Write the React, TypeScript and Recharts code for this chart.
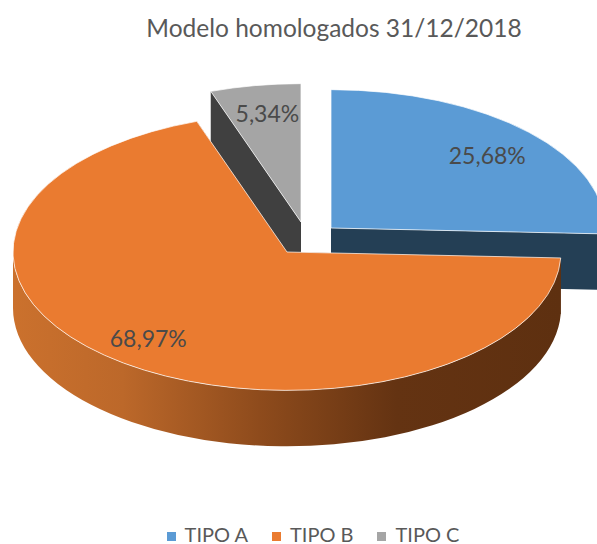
import React from 'react';
import { PieChart, Pie, Legend } from 'recharts';

const TITLE = 'Modelo homologados 31/12/2018';
const CATEGORIES = ['TIPO A', 'TIPO B', 'TIPO C'];
const VALUES = [25.68, 68.97, 5.34];
const COLORS = ['#5B9BD5', '#EA7B30', '#A5A5A5'];
const WALL_COLORS = ['#243F55', 'url(#orangeWall)', '#404040'];

// fake 3D: circle squashed by TILT and extruded by DEPTH, slices pulled out by EXPLODE
const TILT = 0.505;
const DEPTH = 56;
const EXPLODE = [[44, -24], [0, 0], [14, -30]];
const LABEL_NUDGE = [[-2, 4], [-8, -3], [3, 0]];

const pieData = CATEGORIES.map((name, i) => ({ name, value: VALUES[i], fill: COLORS[i] }));

const slice3d = (props: any, only: string[]) => {
  const { name, cx, cy, outerRadius, startAngle, endAngle } = props;
  if (!only.includes(name)) return <g />;
  const i = CATEGORIES.indexOf(name);
  const rx = outerRadius;
  const ry = outerRadius * TILT;
  const ax = cx + EXPLODE[i][0];
  const ay = cy + EXPLODE[i][1];
  const from = 90 - startAngle;
  const to = 90 - endAngle;
  const pt = (deg: number, down = 0) => {
    const r = (deg * Math.PI) / 180;
    return `${ax + rx * Math.sin(r)} ${ay - ry * Math.cos(r) + down}`;
  };
  const large = to - from > 180 ? 1 : 0;
  const rimFrom = Math.max(from, 90);
  const rimTo = Math.min(to, 270);
  const wall = WALL_COLORS[i];
  const face = (deg: number) =>
    `M${ax} ${ay}L${pt(deg)}L${pt(deg, DEPTH)}L${ax} ${ay + DEPTH}Z`;
  return (
    <g>
      <path d={face(from)} fill={wall} />
      <path d={face(to)} fill={wall} />
      {rimFrom < rimTo && (
        <path
          d={`M${pt(rimFrom)}A${rx} ${ry} 0 0 1 ${pt(rimTo)}L${pt(rimTo, DEPTH)}A${rx} ${ry} 0 0 0 ${pt(rimFrom, DEPTH)}Z`}
          fill={wall}
        />
      )}
      <path
        d={`M${ax} ${ay}L${pt(from)}A${rx} ${ry} 0 ${large} 1 ${pt(to)}Z`}
        fill={COLORS[i]}
        stroke="#ffffff"
        strokeOpacity={0.7}
        strokeWidth={1}
      />
    </g>
  );
};

const sliceLabel = (props: any, only: string[]) => {
  const { name, cx, cy, outerRadius, midAngle, value } = props;
  if (!only.includes(name)) return null;
  const i = CATEGORIES.indexOf(name);
  const r = (midAngle * Math.PI) / 180;
  const x = cx + EXPLODE[i][0] + outerRadius * 0.8 * Math.cos(r) + LABEL_NUDGE[i][0];
  const y = cy + EXPLODE[i][1] - outerRadius * TILT * 0.8 * Math.sin(r) + LABEL_NUDGE[i][1];
  return (
    <text x={x} y={y} textAnchor="middle" dominantBaseline="central" fill="#4A4A4A" fontSize={23} fontFamily="Lato">
      {value.toFixed(2).replace('.', ',')}%
    </text>
  );
};

const BACK = ['TIPO A', 'TIPO C'];
const FRONT = ['TIPO B'];

export default function App() {
  return (
    <div style={{ position: 'absolute', left: 0, top: 0, width: 597, height: 544, overflow: 'hidden', background: '#fff' }}>
      <PieChart width={597} height={544} margin={{ top: 0, right: 0, bottom: 0, left: 0 }}>
        <defs>
          <linearGradient id="orangeWall" gradientUnits="userSpaceOnUse" x1={13} y1={0} x2={561} y2={0}>
            <stop offset="0" stopColor="#CB712D" />
            <stop offset="0.2" stopColor="#BC682A" />
            <stop offset="0.45" stopColor="#8E4B1C" />
            <stop offset="0.7" stopColor="#643312" />
            <stop offset="1" stopColor="#5E3010" />
          </linearGradient>
        </defs>
        <text x={334} y={37} textAnchor="middle" fill="#595959" fontSize={24.5} fontFamily="Lato">
          {TITLE}
        </text>
        <Pie
          data={pieData}
          dataKey="value"
          nameKey="name"
          cx={287}
          cy={252}
          outerRadius={274}
          startAngle={90}
          endAngle={-270}
          legendType="none"
          isAnimationActive={false}
          labelLine={false}
          shape={(p: any) => slice3d(p, BACK)}
          label={(p: any) => sliceLabel(p, BACK)}
        />
        <Pie
          data={pieData}
          dataKey="value"
          nameKey="name"
          cx={287}
          cy={252}
          outerRadius={274}
          startAngle={90}
          endAngle={-270}
          isAnimationActive={false}
          labelLine={false}
          shape={(p: any) => slice3d(p, FRONT)}
          label={(p: any) => sliceLabel(p, FRONT)}
        />
        <Legend
          iconType="square"
          iconSize={9}
          wrapperStyle={{ position: 'absolute', top: 524, left: 0, width: 650, fontFamily: 'Lato', fontSize: 20, lineHeight: '20px' }}
          formatter={(v: string) => <span style={{ color: '#595959', marginLeft: 5, marginRight: 14 }}>{v}</span>}
        />
      </PieChart>
    </div>
  );
}
